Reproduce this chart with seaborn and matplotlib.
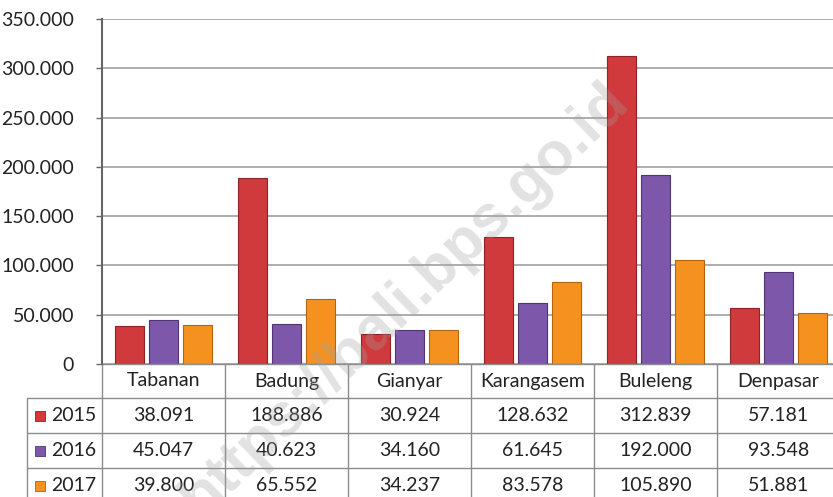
import matplotlib
matplotlib.use("Agg")
import matplotlib.pyplot as plt
import matplotlib.ticker as mticker
import matplotlib.transforms as mtransforms
from matplotlib.patches import Rectangle
import pandas as pd
import seaborn as sns

# Data
regions = ["Tabanan", "Badung", "Gianyar", "Karangasem", "Buleleng", "Denpasar"]
years = ["2015", "2016", "2017"]
values_2015 = [38091, 188886, 30924, 128632, 312839, 57181]
values_2016 = [45047, 40623, 34160, 61645, 192000, 93548]
values_2017 = [39800, 65552, 34237, 83578, 105890, 51881]
y_ticks = [0, 50000, 100000, 150000, 200000, 250000, 300000, 350000]

colors = ["#D03A3C", "#7D58AA", "#F5921F"]
edges = ["#8E2224", "#4F3574", "#B4640C"]


def fmt(v):
    return f"{v:,.0f}".replace(",", ".")


def main() -> None:
    df = pd.DataFrame({
        "region": regions * 3,
        "year": [y for y in years for _ in regions],
        "value": values_2015 + values_2016 + values_2017,
    })
    series = [values_2015, values_2016, values_2017]

    sns.set_theme(style="white")
    plt.rcParams["font.family"] = ["Lato", "DejaVu Sans"]

    W, H = 833, 497
    fig = plt.figure(figsize=(W / 100, H / 100), dpi=100)
    # plot area in pixels: x 102..840, y 19..364
    ax_w, ax_h = 738, 345
    ax = fig.add_axes([102 / W, 1 - 364 / H, ax_w / W, ax_h / H])

    sns.barplot(
        data=df, x="region", y="value", hue="year", order=regions,
        hue_order=years, palette=colors, width=0.83, gap=0.15,
        ax=ax, legend=False, saturation=1,
    )
    for i, cont in enumerate(ax.containers):
        for bar in cont:
            bar.set_edgecolor(edges[i])
            bar.set_linewidth(0.8)

    ax.set_xlim(-0.5, 5.5)
    ax.set_ylim(0, 350000)
    ax.set_yticks(y_ticks)
    ax.yaxis.set_major_formatter(mticker.FuncFormatter(lambda v, p: fmt(v)))
    ax.tick_params(axis="y", labelsize=14, labelcolor="#222222", length=4,
                   width=1, direction="out", left=True, pad=16,
                   color="#666666")
    ax.set_xticks([])
    ax.set_xlabel("")
    ax.set_ylabel("")
    ax.yaxis.grid(True, color="#A0A0A0", linewidth=1.2)
    ax.set_axisbelow(True)
    for s in ["top", "right", "bottom"]:
        ax.spines[s].set_visible(False)
    ax.spines["left"].set_color("#666666")
    ax.spines["left"].set_linewidth(1.5)

    # Data table below the plot (x in category units, y in axes fraction)
    tr = mtransforms.blended_transform_factory(ax.transData, ax.transAxes)
    col_px = ax_w / len(regions)
    label_left = -0.5 - 75 / col_px
    head_h, row_h = 34 / ax_h, 35 / ax_h
    row_tops = [-head_h - row_h * i for i in range(4)]
    line_kw = dict(color="#8C8C8C", linewidth=1.0, transform=tr,
                   clip_on=False)
    ax.plot([-0.5, 5.5], [0, 0], **line_kw)
    for y in row_tops:
        ax.plot([label_left, 5.5], [y, y], **line_kw)
    ax.plot([label_left, label_left], [row_tops[0], row_tops[3]], **line_kw)
    for j in range(len(regions) + 1):
        ax.plot([j - 0.5, j - 0.5], [0, row_tops[3]], **line_kw)

    txt_kw = dict(transform=tr, fontsize=14, color="#222222", va="center",
                  clip_on=False)
    for j, r in enumerate(regions):
        ax.text(j, -head_h / 2, r, ha="center", **txt_kw)
    for i, yr in enumerate(years):
        yc = row_tops[i] - row_h / 2
        ax.text(-0.5 - 6 / col_px, yc, yr, ha="right", **txt_kw)
        ax.add_patch(Rectangle(
            (label_left + 8 / col_px, yc - 5 / ax_h), 10 / col_px, 10 / ax_h,
            transform=tr, facecolor=colors[i], edgecolor=edges[i],
            linewidth=0.6, clip_on=False,
        ))
        for j, v in enumerate(series[i]):
            ax.text(j, yc, fmt(v), ha="center", **txt_kw)

    # watermark
    fig.text(405 / W, 1 - 300 / H, "https://bali.bps.go.id", rotation=44,
             fontsize=44, fontweight="bold", color="#A0A0A0", alpha=0.3,
             ha="center", va="center", family="Liberation Sans", zorder=10,
             rotation_mode="anchor")

    fig.savefig("out.png", dpi=100)
    plt.close(fig)


if __name__ == "__main__":
    main()
